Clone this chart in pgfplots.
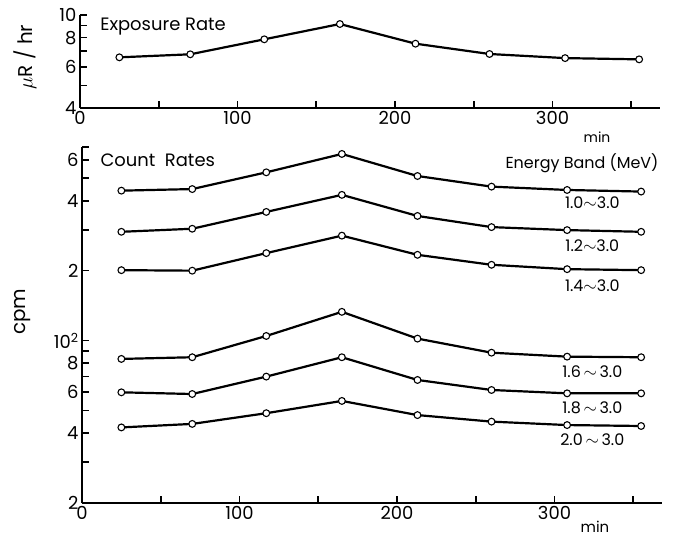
\documentclass[border=0pt]{standalone}
\usepackage{pgfplots}
\pgfplotsset{compat=1.18}
\usepackage{fontspec}
\setmainfont{Poppins}
\begin{document}
\begin{tikzpicture}[x=1bp,y=1bp]
\path (0,0) rectangle (678,-538);
\pgfplotsset{
  every axis/.append style={
    scale only axis, width=579.6bp,
    xmin=0, xmax=368,
    axis x line=bottom, axis y line=left,
    axis line style={-, line width=1.9bp},
    tick align=inside, tick style={line width=1.6bp, black},
    major tick length=7bp,
    xtick={0,50,...,350},
    xticklabels={0,,100,,200,,300,},
    xminorticks=false, yminorticks=false,
    ticklabel style={font=\fontsize{18}{20}\selectfont},
    /pgf/number format/assume math mode=true,
    clip=false,
  },
  myline/.style={black, line width=2.2bp, mark=*, mark size=3.4bp, mark options={fill=white, draw=black, line width=1.1bp}},
}
\begin{axis}[at={(80bp,-108bp)}, anchor=south west, height=93bp,
  ymode=log, ymin=4, ymax=10,
  ytick={4,5,6,7,8,9,10}, yticklabels={4,,6,,8,,10},
  ylabel={$\mu$R / hr},
  ylabel style={at={(axis description cs:-0.095,0.548)}, anchor=center, font=\fontsize{20}{22}\selectfont},
]
\addplot[myline] coordinates {(25,6.59)(70,6.79)(117,7.87)(165,9.15)(213,7.54)(260,6.81)(308,6.54)(355,6.46)};
\node[anchor=west, font=\fontsize{18}{20}\selectfont] at (axis description cs:0.029,0.871) {Exposure Rate};
\node[font=\fontsize{14}{16}\selectfont] at (axis description cs:0.892,-0.312) {min};
\end{axis}
\begin{axis}[at={(82bp,-503bp)}, anchor=south west, height=355.8bp,
  ymode=log, ymin=20, ymax=680,
  ytick={20,30,40,50,60,70,80,90,100,200,300,400,500,600,680},
  yticklabels={2,,4,,6,,8,,10\textsuperscript{2},2,,4,,6,},
  ylabel={cpm},
  ylabel style={at={(axis description cs:-0.102,0.537)}, anchor=center, font=\fontsize{20}{22}\selectfont},
]
\addplot[myline] coordinates {(25,442)(70,449)(117,530)(165,636)(213,511)(260,460)(308,445)(355,438)};
\addplot[myline] coordinates {(25,294)(70,303)(117,358)(165,424)(213,344)(260,308)(308,299)(355,294)};
\addplot[myline] coordinates {(25,201)(70,200)(117,238)(165,283)(213,234)(260,212)(308,203)(355,201)};
\addplot[myline] coordinates {(25,83.4)(70,84.8)(117,104.7)(165,133)(213,102)(260,88.7)(308,85.3)(355,84.8)};
\addplot[myline] coordinates {(25,59.9)(70,58.9)(117,70)(165,84.8)(213,67.7)(260,61.3)(308,59.3)(355,59.3)};
\addplot[myline] coordinates {(25,42.3)(70,43.8)(117,48.7)(165,55)(213,47.8)(260,44.8)(308,43.3)(355,42.9)};
\node[anchor=west, font=\fontsize{18}{20}\selectfont] at (axis description cs:0.026,0.964) {Count\ \ Rates};
\node[anchor=west, font=\fontsize{16}{18}\selectfont] at (axis description cs:0.7247,0.9556) {Energy Band (MeV)};
\node[font=\fontsize{15}{17}\selectfont] at (axis description cs:0.885,-0.068) {min};
\begin{scope}[every node/.style={font=\fontsize{16}{18}\selectfont}]
\node at (axis cs:324,391) {1.0$\sim$3.0};
\node at (axis cs:324,255) {1.2$\sim$3.0};
\node at (axis cs:324,173) {1.4$\sim$3.0};
\node at (axis cs:324,73.5) {1.6\,$\sim$\,3.0};
\node at (axis cs:324,51.6) {1.8\,$\sim$\,3.0};
\node at (axis cs:324,37.6) {2.0\,$\sim$\,3.0};
\end{scope}
\end{axis}
\end{tikzpicture}
\end{document}
